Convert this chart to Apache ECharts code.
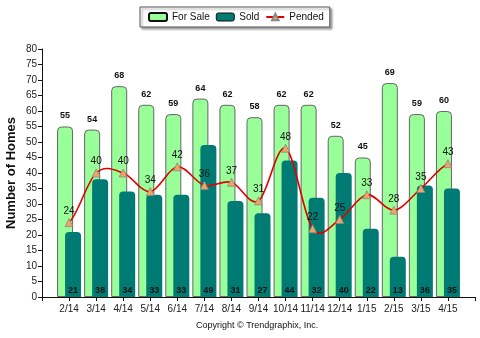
<!DOCTYPE html>
<html>
<head>
<meta charset="utf-8">
<script src="https://cdn.jsdelivr.net/npm/echarts@6/dist/echarts.min.js"></script>
<style>
  html, body { margin: 0; padding: 0; background: #fff; }
  #chart { width: 480px; height: 338px; }
</style>
</head>
<body>
<div id="chart"></div>
<script>
// Monthly inventory: homes for sale, sold and pended
const months = ['2/14', '3/14', '4/14', '5/14', '6/14', '7/14', '8/14', '9/14', '10/14', '11/14', '12/14', '1/15', '2/15', '3/15', '4/15'];
const forSale = [55, 54, 68, 62, 59, 64, 62, 58, 62, 62, 52, 45, 69, 59, 60];
const sold = [21, 38, 34, 33, 33, 49, 31, 27, 44, 32, 40, 22, 13, 36, 35];
const pended = [24, 40, 40, 34, 42, 36, 37, 31, 48, 22, 25, 33, 28, 35, 43];
const yTicks = { min: 0, max: 80, step: 5 };

// empty slots at both ends leave a margin of one step around the months
const cats = [''].concat(months, ['']);
const pad = arr => [null].concat(arr, [null]);
const pendedPadded = pad(pended);

const FONT = '"Liberation Sans", Arial, sans-serif';
const LINE_RED = '#E00000';
const chart = echarts.init(document.getElementById('chart'), null, { renderer: 'canvas' });

// Cardinal spline (tension 0.5) through the pended points, one bezier per segment
function renderPendedCurve(params, api) {
  const i = params.dataIndex;           // index in the padded category list
  const k = i - 1;                      // index in pended[]
  if (k < 0 || k >= pended.length - 1) return null;
  const pt = j => api.coord([j + 1, pended[Math.max(0, Math.min(pended.length - 1, j))]]);
  const p0 = pt(k - 1), p1 = pt(k), p2 = pt(k + 1), p3 = pt(k + 2);
  const t = 0.5 / 3;
  return {
    type: 'bezierCurve',
    shape: {
      x1: p1[0], y1: p1[1],
      cpx1: p1[0] + (p2[0] - p0[0]) * t, cpy1: p1[1] + (p2[1] - p0[1]) * t,
      cpx2: p2[0] - (p3[0] - p1[0]) * t, cpy2: p2[1] - (p3[1] - p1[1]) * t,
      x2: p2[0], y2: p2[1]
    },
    style: { stroke: LINE_RED, lineWidth: 1.6, fill: null }
  };
}

chart.setOption({
  animation: false,
  backgroundColor: '#ffffff',
  textStyle: { fontFamily: FONT },
  legend: {
    left: 140, top: 7,
    padding: [5, 6, 5, 8],
    itemGap: 6, itemWidth: 18, itemHeight: 8,
    borderColor: '#555', borderWidth: 1,
    backgroundColor: '#fff',
    shadowColor: 'rgba(0,0,0,0.35)', shadowBlur: 2, shadowOffsetX: 2, shadowOffsetY: 2,
    textStyle: { fontFamily: FONT, fontSize: 10, color: '#111' },
    data: [
      { name: 'For Sale', itemStyle: { borderColor: '#111' } },
      { name: 'Sold', itemStyle: { borderColor: '#111', borderWidth: 1 } },
      { name: 'Pended', lineStyle: { color: LINE_RED, width: 2, opacity: 1 } }
    ]
  },
  graphic: [{
    type: 'text', left: 196, top: 321,
    style: { text: 'Copyright \u00A9 Trendgraphix, Inc.', fontFamily: FONT, fontSize: 9, fill: '#111' }
  }],
  grid: { left: 42, right: 5, top: 49, bottom: 41, containLabel: false, outerBoundsMode: 'none' },
  xAxis: {
    type: 'category', data: cats, boundaryGap: false,
    axisLine: { lineStyle: { color: '#111' } },
    axisTick: { show: true, alignWithLabel: true, length: 4, lineStyle: { color: '#111' } },
    axisLabel: { fontFamily: FONT, fontSize: 10, color: '#222', margin: 7, interval: 0 }
  },
  yAxis: {
    type: 'value', min: yTicks.min, max: yTicks.max, interval: yTicks.step,
    name: 'Number of Homes', nameLocation: 'middle', nameGap: 24, nameMoveOverlap: false,
    nameTextStyle: { fontFamily: FONT, fontSize: 13, fontWeight: 'bold', color: '#111' },
    axisLine: { show: true, lineStyle: { color: '#111' } },
    axisTick: { show: true, length: 4, lineStyle: { color: '#111' } },
    axisLabel: { fontFamily: FONT, fontSize: 10, color: '#222', margin: 5 },
    splitLine: { show: false }
  },
  series: [
    {
      name: 'For Sale', type: 'bar', data: pad(forSale),
      barWidth: 16, barGap: '-50%',
      itemStyle: { color: '#99FF99', borderColor: '#666', borderWidth: 1, borderRadius: [4, 4, 0, 0] },
      label: { show: true, position: 'top', distance: 6, fontFamily: FONT, fontSize: 9, fontWeight: 'bold', color: '#111' },
      z: 1
    },
    {
      name: 'Sold', type: 'bar', data: pad(sold),
      barWidth: 16,
      itemStyle: { color: '#007B73', borderRadius: [4, 4, 0, 0] },
      label: { show: true, position: 'insideBottom', distance: 2, fontFamily: FONT, fontSize: 9, fontWeight: 'bold', color: '#111' },
      z: 2
    },
    {
      name: 'PendedCurve', type: 'custom',
      data: pendedPadded.map((v, i) => [i, v]),
      encode: { x: 0, y: 1 },
      renderItem: renderPendedCurve,
      silent: true,
      z: 4
    },
    {
      name: 'Pended', type: 'line', data: pendedPadded,
      symbol: 'triangle', symbolSize: 8,
      lineStyle: { opacity: 0 },
      itemStyle: { color: '#F4A460', borderColor: '#888', borderWidth: 0.8 },
      label: { show: true, position: 'top', distance: 2, fontFamily: FONT, fontSize: 10, color: '#111' },
      z: 5
    }
  ]
});
</script>
</body>
</html>
